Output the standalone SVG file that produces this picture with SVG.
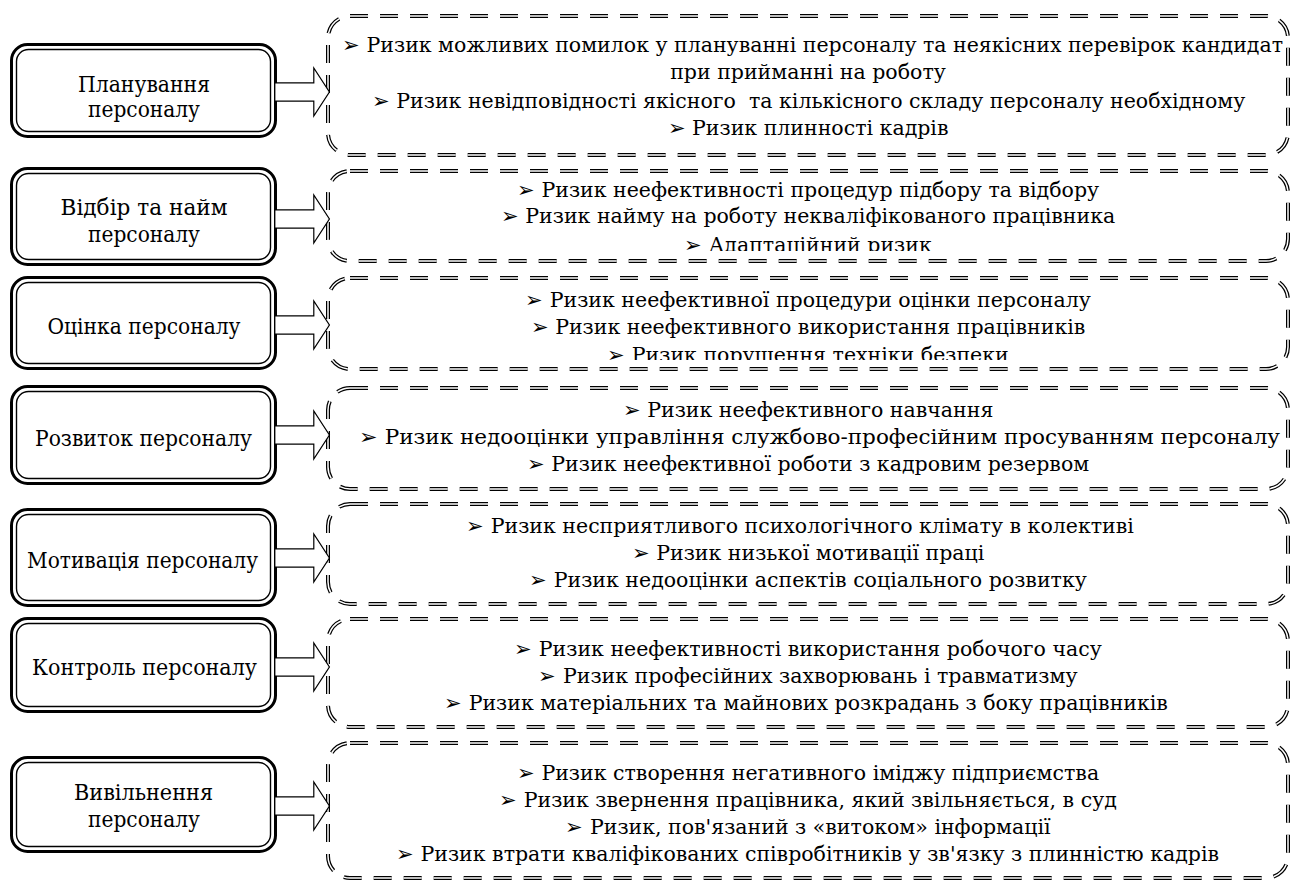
<svg xmlns="http://www.w3.org/2000/svg" width="1293" height="882" viewBox="0 0 1293 882">
<defs>
<style>
.lo{fill:#fff;stroke:#000;stroke-width:3}
.li{fill:none;stroke:#000;stroke-width:1.4}
.lt{font-family:"DejaVu Serif","Liberation Serif",serif;font-size:22px;fill:#000;text-anchor:middle}
.rb1{fill:#fff;stroke:#000;stroke-width:4;stroke-dasharray:18 12}
.rb2{fill:none;stroke:#fff;stroke-width:1.5;stroke-dasharray:18 12}
.rt{font-family:"DejaVu Serif","Liberation Serif",serif;font-size:20.5px;fill:#000;text-anchor:middle}
.ao{fill:#fff;stroke:#000;stroke-width:3.6;stroke-linejoin:miter}
.ai{fill:#fff;stroke:#fff;stroke-width:1.2;stroke-linejoin:miter}
</style>
<clipPath id="c2"><rect x="330" y="160" width="960" height="91"/></clipPath>
<clipPath id="c3"><rect x="330" y="270" width="960" height="90"/></clipPath>
</defs>
<rect width="1293" height="882" fill="#fff"/>

<!-- right risk boxes -->
<g id="r1">
<rect class="rb1" x="328" y="16" width="960" height="139" rx="22"/>
<rect class="rb2" x="328" y="16" width="960" height="139" rx="22"/>
<text class="rt" x="812.5" y="52" textLength="941" lengthAdjust="spacingAndGlyphs">➢ Ризик можливих помилок у плануванні персоналу та неякісних перевірок кандидат</text>
<text class="rt" x="808" y="79">при прийманні на роботу</text>
<text class="rt" x="808.5" y="108" xml:space="preserve">➢ Ризик невідповідності якісного  та кількісного складу персоналу необхідному</text>
<text class="rt" x="808" y="135">➢ Ризик плинності кадрів</text>
</g>
<g id="r2">
<rect class="rb1" x="328" y="171" width="960" height="90" rx="22"/>
<g clip-path="url(#c2)">
<text class="rt" x="808" y="197">➢ Ризик неефективності процедур підбору та відбору</text>
<text class="rt" x="808" y="223">➢ Ризик найму на роботу некваліфікованого працівника</text>
<text class="rt" x="808" y="252">➢ Адаптаційний ризик</text>
</g>
<rect class="rb2" x="328" y="171" width="960" height="90" rx="22"/>
</g>
<g id="r3">
<rect class="rb1" x="328" y="278" width="960" height="91" rx="22"/>
<g clip-path="url(#c3)">
<text class="rt" x="808" y="307">➢ Ризик неефективної процедури оцінки персоналу</text>
<text class="rt" x="808" y="334">➢ Ризик неефективного використання працівників</text>
<text class="rt" x="808" y="362">➢ Ризик порушення техніки безпеки</text>
</g>
<rect class="rb2" x="328" y="278" width="960" height="91" rx="22"/>
</g>
<g id="r4">
<rect class="rb1" x="328" y="388" width="960" height="101" rx="22"/>
<rect class="rb2" x="328" y="388" width="960" height="101" rx="22"/>
<text class="rt" x="808" y="417">➢ Ризик неефективного навчання</text>
<text class="rt" x="819.5" y="444" textLength="921" lengthAdjust="spacingAndGlyphs">➢ Ризик недооцінки управління службово-професійним просуванням персоналу</text>
<text class="rt" x="808" y="471">➢ Ризик неефективної роботи з кадровим резервом</text>
</g>
<g id="r5">
<rect class="rb1" x="328" y="504" width="960" height="100" rx="22"/>
<rect class="rb2" x="328" y="504" width="960" height="100" rx="22"/>
<text class="rt" x="800" y="533">➢ Ризик несприятливого психологічного клімату в колективі</text>
<text class="rt" x="808" y="560">➢ Ризик низької мотивації праці</text>
<text class="rt" x="808" y="587">➢ Ризик недооцінки аспектів соціального розвитку</text>
</g>
<g id="r6">
<rect class="rb1" x="328" y="619" width="960" height="108" rx="22"/>
<rect class="rb2" x="328" y="619" width="960" height="108" rx="22"/>
<text class="rt" x="808" y="656">➢ Ризик неефективності використання робочого часу</text>
<text class="rt" x="808" y="683">➢ Ризик професійних захворювань і травматизму</text>
<text class="rt" x="806" y="710">➢ Ризик матеріальних та майнових розкрадань з боку працівників</text>
</g>
<g id="r7">
<rect class="rb1" x="328" y="743" width="960" height="135" rx="22"/>
<rect class="rb2" x="328" y="743" width="960" height="135" rx="22"/>
<text class="rt" x="808" y="780">➢ Ризик створення негативного іміджу підприємства</text>
<text class="rt" x="808" y="807">➢ Ризик звернення працівника, який звільняється, в суд</text>
<text class="rt" x="808" y="834">➢ Ризик, пов'язаний з «витоком» інформації</text>
<text class="rt" x="807.5" y="861">➢ Ризик втрати кваліфікованих співробітників у зв'язку з плинністю кадрів</text>
</g>

<!-- left stage boxes -->
<g id="s1">
<rect class="lo" x="11.5" y="44.5" width="264" height="92" rx="16"/>
<rect class="li" x="16.5" y="49.5" width="254" height="82" rx="12"/>
<text class="lt" x="144" y="92" textLength="132" lengthAdjust="spacingAndGlyphs">Планування</text>
<text class="lt" x="144" y="117" textLength="112" lengthAdjust="spacingAndGlyphs">персоналу</text>
</g>
<g id="s2">
<rect class="lo" x="11.5" y="168.5" width="264" height="96" rx="16"/>
<rect class="li" x="16.5" y="173.5" width="254" height="86" rx="12"/>
<text class="lt" x="144" y="215" textLength="167" lengthAdjust="spacingAndGlyphs">Відбір та найм</text>
<text class="lt" x="144" y="242" textLength="112" lengthAdjust="spacingAndGlyphs">персоналу</text>
</g>
<g id="s3">
<rect class="lo" x="11.5" y="277.5" width="264" height="91" rx="16"/>
<rect class="li" x="16.5" y="282.5" width="254" height="81" rx="12"/>
<text class="lt" x="144" y="334" textLength="193" lengthAdjust="spacingAndGlyphs">Оцінка персоналу</text>
</g>
<g id="s4">
<rect class="lo" x="11.5" y="386.5" width="264" height="97" rx="16"/>
<rect class="li" x="16.5" y="391.5" width="254" height="87" rx="12"/>
<text class="lt" x="143.5" y="446" textLength="217" lengthAdjust="spacingAndGlyphs">Розвиток персоналу</text>
</g>
<g id="s5">
<rect class="lo" x="11.5" y="509.5" width="264" height="96" rx="16"/>
<rect class="li" x="16.5" y="514.5" width="254" height="86" rx="12"/>
<text class="lt" x="142.5" y="568" textLength="231" lengthAdjust="spacingAndGlyphs">Мотивація персоналу</text>
</g>
<g id="s6">
<rect class="lo" x="11.5" y="618.5" width="264" height="93" rx="16"/>
<rect class="li" x="16.5" y="623.5" width="254" height="83" rx="12"/>
<text class="lt" x="144.5" y="675" textLength="225" lengthAdjust="spacingAndGlyphs">Контроль персоналу</text>
</g>
<g id="s7">
<rect class="lo" x="11.5" y="757.5" width="264" height="94" rx="16"/>
<rect class="li" x="16.5" y="762.5" width="254" height="84" rx="12"/>
<text class="lt" x="143.5" y="800" textLength="139" lengthAdjust="spacingAndGlyphs">Вивільнення</text>
<text class="lt" x="144" y="827" textLength="112" lengthAdjust="spacingAndGlyphs">персоналу</text>
</g>

<!-- connectors: double-outlined block arrows -->
<g id="connectors">
<g transform="translate(0,92)">
<polygon class="ao" points="276,-8 315,-8 315,-20 328,0 315,20 315,8 276,8"/>
<polygon class="ai" points="276,-8 315,-8 315,-20 328,0 315,20 315,8 276,8"/>
</g>
<g transform="translate(0,219)">
<polygon class="ao" points="276,-8 315,-8 315,-20 328,0 315,20 315,8 276,8"/>
<polygon class="ai" points="276,-8 315,-8 315,-20 328,0 315,20 315,8 276,8"/>
</g>
<g transform="translate(0,325)">
<polygon class="ao" points="276,-8 315,-8 315,-20 328,0 315,20 315,8 276,8"/>
<polygon class="ai" points="276,-8 315,-8 315,-20 328,0 315,20 315,8 276,8"/>
</g>
<g transform="translate(0,435)">
<polygon class="ao" points="276,-8 315,-8 315,-20 328,0 315,20 315,8 276,8"/>
<polygon class="ai" points="276,-8 315,-8 315,-20 328,0 315,20 315,8 276,8"/>
</g>
<g transform="translate(0,558)">
<polygon class="ao" points="276,-8 315,-8 315,-20 328,0 315,20 315,8 276,8"/>
<polygon class="ai" points="276,-8 315,-8 315,-20 328,0 315,20 315,8 276,8"/>
</g>
<g transform="translate(0,667)">
<polygon class="ao" points="276,-8 315,-8 315,-20 328,0 315,20 315,8 276,8"/>
<polygon class="ai" points="276,-8 315,-8 315,-20 328,0 315,20 315,8 276,8"/>
</g>
<g transform="translate(0,806)">
<polygon class="ao" points="276,-8 315,-8 315,-20 328,0 315,20 315,8 276,8"/>
<polygon class="ai" points="276,-8 315,-8 315,-20 328,0 315,20 315,8 276,8"/>
</g>
</g>
</svg>
